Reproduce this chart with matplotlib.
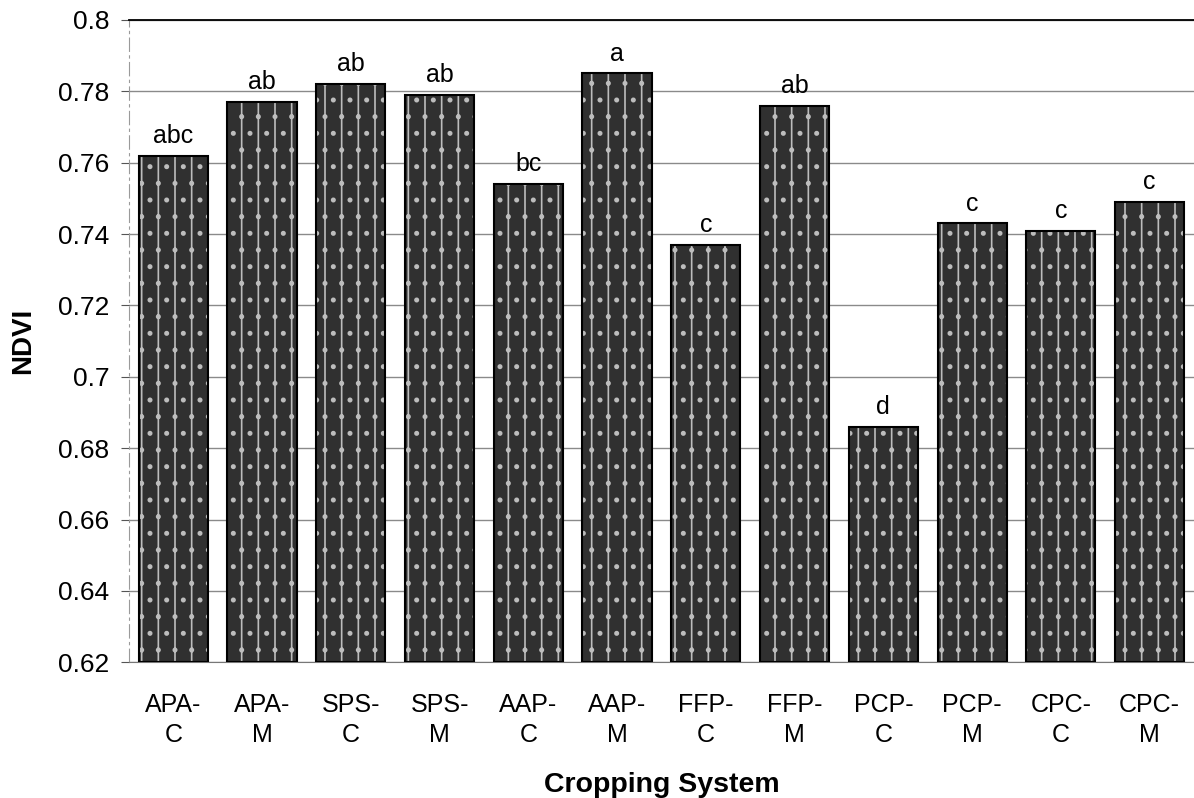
import matplotlib
matplotlib.use("Agg")
import matplotlib.pyplot as plt
from matplotlib.ticker import FuncFormatter

# NDVI by cropping system
systems = ["APA-\nC", "APA-\nM", "SPS-\nC", "SPS-\nM", "AAP-\nC", "AAP-\nM",
           "FFP-\nC", "FFP-\nM", "PCP-\nC", "PCP-\nM", "CPC-\nC", "CPC-\nM"]
ndvi = [0.762, 0.777, 0.782, 0.779, 0.754, 0.785,
        0.737, 0.776, 0.686, 0.743, 0.741, 0.749]
letters = ["abc", "ab", "ab", "ab", "bc", "a",
           "c", "ab", "d", "c", "c", "c"]
yticks = [0.62, 0.64, 0.66, 0.68, 0.70, 0.72, 0.74, 0.76, 0.78, 0.80]

plt.rcParams['font.family'] = ['Liberation Sans', 'DejaVu Sans']
plt.rcParams['hatch.linewidth'] = 1.2

fig = plt.figure(figsize=(11.94, 7.98), dpi=100)
ax = fig.add_axes([0.108, 0.170, 0.892, 0.805])

x = list(range(len(systems)))

# gridlines behind the bars
ax.set_axisbelow(True)
ax.yaxis.grid(True, color='#8a8a8a', linewidth=1.0)

# dark speckled bars: dark fill, light hatch on top, black outline
ax.bar(x, [v - 0.62 for v in ndvi], bottom=0.62, width=0.78,
       color='#303030', edgecolor='none', zorder=2)
ax.bar(x, [v - 0.62 for v in ndvi], bottom=0.62, width=0.78,
       fill=False, hatch='|.', edgecolor='#bdbdbd', linewidth=0, zorder=3)
ax.bar(x, [v - 0.62 for v in ndvi], bottom=0.62, width=0.78,
       fill=False, edgecolor='black', linewidth=1.5, zorder=4)

for xi, v, lab in zip(x, ndvi, letters):
    ax.text(xi, v + 0.0022, lab, ha='center', va='bottom', fontsize=18)

ax.set_xlim(-0.5, len(systems) - 0.5)
ax.set_ylim(0.62, 0.80)
ax.set_yticks(yticks)
ax.yaxis.set_major_formatter(FuncFormatter(lambda v, p: f"{v:g}"))
ax.set_xticks(x)
ax.set_xticklabels(systems, fontsize=18, linespacing=1.3)
ax.tick_params(axis='y', labelsize=19, length=6, color='#555555', pad=8)
ax.tick_params(axis='x', length=0, pad=22)

ax.spines['top'].set_color('black')
ax.spines['top'].set_linewidth(1.3)
ax.spines['right'].set_visible(False)
ax.spines['left'].set_color('#9a9a9a')
ax.spines['left'].set_linestyle((0, (12, 4, 2, 4)))
ax.spines['bottom'].set_color('#777777')

ax.set_ylabel("NDVI", fontsize=20, fontweight='bold', labelpad=16)
ax.set_xlabel("Cropping System", fontsize=20.5, fontweight='bold', labelpad=18)

fig.savefig("out.png", dpi=100)
